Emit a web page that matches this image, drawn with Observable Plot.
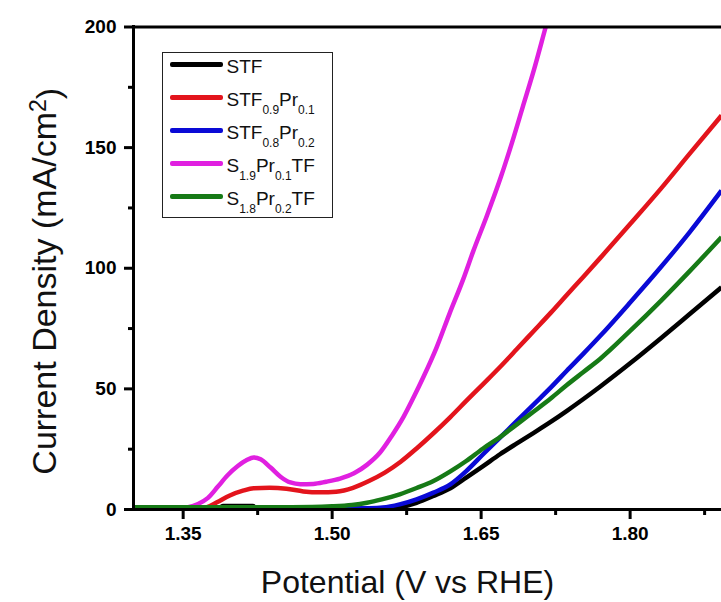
<!DOCTYPE html>
<html>
<head>
<meta charset="utf-8">
<script src="https://cdn.jsdelivr.net/npm/d3@7"></script>
<script src="https://cdn.jsdelivr.net/npm/@observablehq/plot@0.6"></script>
<style>
  body { margin: 0; background: #fff; }
  #wrap { position: relative; width: 721px; height: 602px; overflow: hidden; background: #fff;
          font-family: Arial, "Liberation Sans", sans-serif; }
  #legend { position: absolute; left: 162px; top: 52px; width: 171px; height: 166px;
            border: 1.5px solid #222; box-sizing: border-box; background: #fff; }
  .row { position: absolute; left: 0; height: 0; }
  .sw { position: absolute; left: 6.5px; width: 53px; height: 5px; top: -2.5px; border-radius: 2px; }
  .lab { position: absolute; left: 63.5px; top: -8px; font-size: 19px; line-height: 19px;
         white-space: nowrap; color: #111; }
  .lab sub { font-size: 12px; vertical-align: -8px; line-height: 0; }
</style>
</head>
<body>
<div id="wrap"></div>
<script>
// ---------- data ----------
const seriesNames = ["STF", "STF0.9Pr0.1", "STF0.8Pr0.2", "S1.9Pr0.1TF", "S1.8Pr0.2TF"];
const seriesLabelParts = [
  [["STF", ""]],
  [["STF", "0.9"], ["Pr", "0.1"]],
  [["STF", "0.8"], ["Pr", "0.2"]],
  [["S", "1.9"], ["Pr", "0.1"], ["TF", ""]],
  [["S", "1.8"], ["Pr", "0.2"], ["TF", ""]]
];
const seriesColors = ["#000000", "#e3141c", "#0a0ad6", "#e020e0", "#167a16"];

const V_STF = [1.300,1.385,1.390,1.420,1.425,1.500,1.540,1.560,1.568,1.585,1.602,1.619,1.635,1.652,1.669,1.686,1.703,1.720,1.736,1.753,1.770,1.800,1.831,1.860,1.892];
const I_STF = [0.2,0.3,1.5,1.5,0.3,0.3,0.4,0.7,1.0,2.8,5.6,8.8,13.2,18.0,22.9,27.4,31.8,36.3,40.8,45.8,51.0,60.6,71.0,81.0,92.1];

const V_STF09 = [1.300,1.340,1.365,1.374,1.384,1.397,1.411,1.421,1.437,1.454,1.471,1.488,1.504,1.521,1.537,1.553,1.569,1.585,1.602,1.619,1.635,1.652,1.670,1.686,1.703,1.720,1.736,1.753,1.770,1.800,1.831,1.860,1.892];
const I_STF09 = [0.3,0.3,0.5,1.0,3.0,5.8,7.9,8.8,9.0,8.6,7.5,7.1,7.4,9.0,11.8,15.3,19.8,25.3,31.6,38.3,45.0,52.0,59.5,66.5,74.0,81.5,88.8,96.5,104.3,118.3,133.0,147.5,163.3];

const V_STF08 = [1.300,1.450,1.500,1.535,1.551,1.568,1.585,1.602,1.619,1.635,1.652,1.669,1.686,1.703,1.720,1.736,1.753,1.770,1.800,1.831,1.860,1.892];
const I_STF08 = [0.2,0.2,0.3,0.5,0.8,2.1,4.2,7.0,10.4,15.9,22.9,29.8,36.7,43.6,50.5,57.4,64.6,72.0,85.8,100.5,115.0,132.2];

const V_S19 = [1.300,1.320,1.340,1.355,1.365,1.375,1.385,1.395,1.405,1.414,1.421,1.428,1.438,1.448,1.458,1.468,1.481,1.494,1.508,1.522,1.535,1.548,1.560,1.572,1.582,1.592,1.605,1.618,1.632,1.642,1.656,1.670,1.681,1.692,1.703,1.715,1.725];
const I_S19 = [0.3,0.3,0.4,1.0,2.3,4.8,9.5,14.3,18.0,20.5,21.6,20.8,17.4,13.6,11.2,10.5,10.6,11.5,12.8,15.0,18.5,23.5,30.5,38.5,46.5,55.0,67.0,81.0,95.5,107.0,122.0,138.0,152.0,167.0,182.0,200.0,215.0];

const V_S18 = [1.300,1.450,1.480,1.500,1.520,1.535,1.550,1.568,1.585,1.602,1.619,1.635,1.652,1.669,1.686,1.703,1.720,1.736,1.753,1.770,1.800,1.831,1.860,1.892];
const I_S18 = [0.9,0.9,1.0,1.3,1.9,2.8,4.2,6.3,8.9,11.8,15.8,20.1,25.3,30.0,35.3,40.6,46.0,51.5,57.0,62.5,74.0,86.5,98.8,112.9];

const seriesV = [V_STF, V_STF09, V_STF08, V_S19, V_S18];
const seriesI = [I_STF, I_STF09, I_STF08, I_S19, I_S18];

const xDomain = [1.30, 1.892];
const yDomain = [0, 200];
const xMajorTicks = [1.35, 1.50, 1.65, 1.80];
const xMinorTicks = [1.425, 1.575, 1.725, 1.875];
const yMajorTicks = [0, 50, 100, 150, 200];
const yMinorTicks = [25, 75, 125, 175];
const xTitle = "Potential (V vs RHE)";
const yTitle = "Current Density (mA/cm2)";

// ---------- chart ----------
const rows = seriesNames.map((name, k) =>
  seriesV[k].map((v, i) => ({ name, V: v, I: seriesI[k][i] })));

const font = 'Arial, "Liberation Sans", sans-serif';

const chart = Plot.plot({
  width: 721,
  height: 602,
  marginLeft: 133,
  marginRight: 0,
  marginTop: 26.5,
  marginBottom: 93,
  x: { domain: xDomain },
  y: { domain: yDomain },
  style: { fontFamily: font, background: "#fff", color: "#000" },
  marks: [
    ...rows.map((r, k) => Plot.line(r, {
      x: "V", y: "I", stroke: seriesColors[k], strokeWidth: 4.5,
      curve: "monotone-x", strokeLinejoin: "round", strokeLinecap: "butt", clip: true
    })),
    Plot.ruleY([yDomain[1]], { stroke: "#000", strokeWidth: 3 }),
    Plot.ruleY([yDomain[0]], { stroke: "#000", strokeWidth: 3 }),
    Plot.ruleX([xDomain[0]], { stroke: "#000", strokeWidth: 3, strokeLinecap: "square" }),
    Plot.axisX(xMajorTicks, {
      tickSize: 10, tickPadding: 7, strokeWidth: 3,
      tickFormat: d3.format(".2f"), fontSize: 19, fontWeight: "bold", label: null
    }),
    Plot.axisX(xMinorTicks, { tickSize: 6, strokeWidth: 3, tickFormat: () => "", label: null }),
    Plot.axisY(yMajorTicks, {
      tickSize: 9, tickPadding: 8, strokeWidth: 3,
      fontSize: 19, fontWeight: "bold", label: null
    }),
    Plot.axisY(yMinorTicks, { tickSize: 5, strokeWidth: 3, tickFormat: () => "", label: null }),
    Plot.text([yTitle], {
      text: d => d, frameAnchor: "left", rotate: -90, dx: -78, dy: 13,
      fontSize: 34, lineAnchor: "bottom", textAnchor: "middle", fill: "#111"
    }),
    Plot.text([xTitle], {
      text: d => d, frameAnchor: "bottom", dx: -20, dy: 83,
      fontSize: 32, lineAnchor: "bottom", textAnchor: "middle", fill: "#111"
    })
  ]
});

const wrap = document.getElementById("wrap");
wrap.appendChild(chart);

// superscript "2" in the y title
d3.select(chart).selectAll("text").each(function () {
  if (this.textContent === yTitle) {
    const t = d3.select(this);
    t.text(null);
    t.append("tspan").text("Current Density (mA/cm");
    t.append("tspan").attr("dy", "-0.42em").attr("font-size", "23px").text("2");
    t.append("tspan").attr("dy", "0.42em").text(")");
  }
});

// legend
const legend = document.createElement("div");
legend.id = "legend";
seriesNames.forEach((name, k) => {
  const row = document.createElement("div");
  row.className = "row";
  row.style.top = (11.5 + k * 33) + "px";
  const sw = document.createElement("div");
  sw.className = "sw";
  sw.style.background = seriesColors[k];
  const lab = document.createElement("div");
  lab.className = "lab";
  seriesLabelParts[k].forEach(([main, sub]) => {
    lab.appendChild(document.createTextNode(main));
    if (sub) {
      const s = document.createElement("sub");
      s.textContent = sub;
      lab.appendChild(s);
    }
  });
  row.appendChild(sw);
  row.appendChild(lab);
  legend.appendChild(row);
});
wrap.appendChild(legend);
</script>
</body>
</html>
